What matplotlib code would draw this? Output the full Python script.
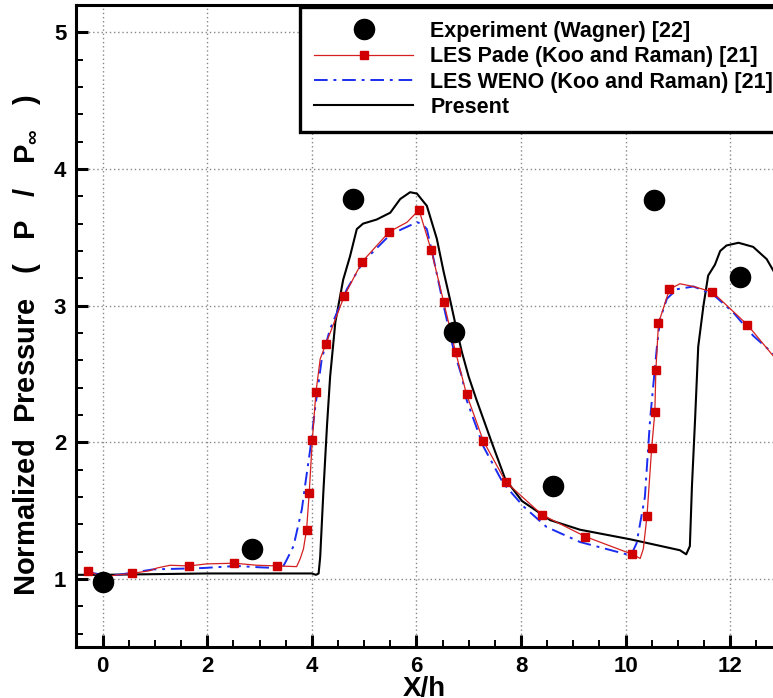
import matplotlib
matplotlib.use("Agg")
import matplotlib.pyplot as plt
from matplotlib.lines import Line2D
from matplotlib.ticker import MultipleLocator, AutoMinorLocator

plt.rcParams["font.family"] = ["Liberation Sans", "DejaVu Sans"]
plt.rcParams["font.weight"] = "bold"
plt.rcParams["mathtext.fontset"] = "custom"
plt.rcParams["mathtext.rm"] = "Liberation Sans:bold"
plt.rcParams["mathtext.it"] = "Liberation Sans:bold"
plt.rcParams["mathtext.bf"] = "Liberation Sans:bold"

# Wall pressure data, X/h vs P/P_inf
exp_x = [0.0, 2.85, 4.78, 6.71, 8.62, 10.55, 12.18]
exp_p = [0.98, 1.22, 3.78, 2.81, 1.68, 3.77, 3.21]

pade_x = [-0.29, -0.1, 0.1, 0.3, 0.56, 0.9, 1.04, 1.29, 1.65, 1.99, 2.52, 2.95,
          3.34, 3.71, 3.78, 3.84, 3.90, 3.95, 4.01, 4.08, 4.16, 4.27, 4.62,
          4.96, 5.48, 5.82, 6.05, 6.28, 6.52, 6.75, 6.96, 7.28, 7.71, 8.40,
          9.23, 10.13, 10.28, 10.34, 10.41, 10.50, 10.56, 10.58, 10.63, 10.84,
          11.04, 11.30, 11.66, 12.33, 12.85]
pade_p = [1.06, 1.03, 1.02, 1.03, 1.04, 1.06, 1.08, 1.10, 1.095, 1.11, 1.115,
          1.10, 1.095, 1.09, 1.15, 1.22, 1.36, 1.63, 2.02, 2.37, 2.61, 2.72,
          3.07, 3.32, 3.54, 3.61, 3.70, 3.41, 3.03, 2.66, 2.35, 2.01, 1.71,
          1.47, 1.31, 1.18, 1.15, 1.22, 1.46, 1.96, 2.22, 2.53, 2.87, 3.12,
          3.16, 3.14, 3.10, 2.86, 2.62]

pade_mark_x = [-0.29, 0.56, 1.65, 2.52, 3.34, 3.90, 3.95, 4.01, 4.08, 4.27,
               4.62, 4.96, 5.48, 6.05, 6.28, 6.52, 6.75, 6.96, 7.28, 7.71,
               8.40, 9.23, 10.13, 10.41, 10.50, 10.56, 10.58, 10.63, 10.84,
               11.66, 12.33]
pade_mark_p = [1.06, 1.04, 1.095, 1.115, 1.095, 1.36, 1.63, 2.02, 2.37, 2.72,
               3.07, 3.32, 3.54, 3.70, 3.41, 3.03, 2.66, 2.35, 2.01, 1.71,
               1.47, 1.31, 1.18, 1.46, 1.96, 2.22, 2.53, 2.87, 3.12,
               3.10, 2.86]

weno_x = [-0.3, 0.0, 0.3, 0.97, 1.5, 1.93, 2.57, 3.0, 3.33, 3.45, 3.52, 3.65,
          3.81, 3.87, 3.97, 4.06, 4.19, 4.35, 4.67, 4.98, 5.50, 6.01, 6.10,
          6.20, 6.33, 6.52, 6.71, 6.87, 6.96, 7.28, 7.66, 8.05, 8.49, 9.13,
          10.02, 10.10, 10.21, 10.37, 10.47, 10.60, 10.66, 10.79, 10.98,
          11.30, 11.68, 12.06, 12.44, 12.85]
weno_p = [1.05, 1.03, 1.03, 1.07, 1.075, 1.08, 1.095, 1.085, 1.08, 1.09, 1.14,
          1.24, 1.51, 1.68, 1.95, 2.24, 2.61, 2.83, 3.12, 3.32, 3.52, 3.61,
          3.60, 3.56, 3.34, 3.00, 2.68, 2.48, 2.31, 1.97, 1.70, 1.53, 1.38,
          1.27, 1.18, 1.17, 1.26, 1.60, 2.17, 2.70, 2.90, 3.05, 3.12, 3.14,
          3.08, 2.95, 2.78, 2.64]

present_x = [-0.55, 0.0, 1.0, 2.0, 3.0, 3.5, 4.0, 4.08, 4.13, 4.16, 4.22, 4.29,
             4.35, 4.45, 4.60, 4.73, 4.86, 4.92, 4.98, 5.24, 5.50, 5.69, 5.88,
             6.01, 6.20, 6.39, 6.52, 6.64, 6.76, 6.87, 7.00, 7.15, 7.44, 7.70,
             8.02, 8.56, 9.13, 10.09, 11.04, 11.16, 11.23, 11.27, 11.33, 11.39,
             11.49, 11.58, 11.71, 11.81, 11.93, 12.16, 12.44, 12.70, 12.85]
present_p = [1.03, 1.03, 1.035, 1.04, 1.04, 1.04, 1.04, 1.03, 1.04, 1.16, 1.63,
             2.12, 2.48, 2.88, 3.19, 3.36, 3.56, 3.58, 3.60, 3.63, 3.68, 3.78,
             3.83, 3.82, 3.73, 3.49, 3.25, 3.05, 2.84, 2.66, 2.48, 2.31, 2.00,
             1.73, 1.57, 1.43, 1.36, 1.29, 1.21, 1.18, 1.24, 1.68, 2.17, 2.70,
             3.00, 3.22, 3.30, 3.40, 3.44, 3.46, 3.43, 3.34, 3.24]

labels = ["Experiment (Wagner) [22]", "LES Pade (Koo and Raman) [21]",
          "LES WENO (Koo and Raman) [21]", "Present"]

red = "#d42020"
blue = "#1a2cf0"

fig = plt.figure(figsize=(7.73, 6.98), dpi=100)
ax = fig.add_axes([76 / 773, 51.3 / 698, 697 / 773, 641.7 / 698])

ax.plot(present_x, present_p, color="black", lw=1.5, zorder=3)
ax.plot(weno_x, weno_p, color=blue, lw=1.4, ls=(0, (7, 3, 1.5, 3)), zorder=4)
ax.plot(pade_x, pade_p, color=red, lw=0.9, zorder=5)
ax.plot(pade_mark_x, pade_mark_p, ls="none", marker="s", ms=5.5,
        color="#d00000", zorder=6)
ax.plot(exp_x, exp_p, ls="none", marker="o", ms=14.5, color="black", zorder=7)

ax.set_xlim(-0.51, 12.82)
ax.set_ylim(0.504, 5.20)
ax.xaxis.set_major_locator(MultipleLocator(2))
ax.xaxis.set_minor_locator(AutoMinorLocator(4))
ax.yaxis.set_major_locator(MultipleLocator(1))
ax.yaxis.set_minor_locator(AutoMinorLocator(5))
ax.grid(True, which="major", color="#888888", ls=(0, (1, 2)), lw=1.0)
ax.set_axisbelow(True)

for side in ("left", "bottom", "top"):
    ax.spines[side].set_linewidth(2.2)
ax.spines["right"].set_visible(False)
ax.tick_params(which="major", direction="in", length=8.5, width=2.2,
               labelsize=16, pad=7)
ax.tick_params(which="minor", direction="in", length=5, width=1.4)
for lab in ax.get_xticklabels() + ax.get_yticklabels():
    lab.set_fontweight("bold")

ax.set_xlabel("X/h", fontsize=20, fontweight="bold", labelpad=-1)
ax.set_ylabel(r"Normalized  Pressure   (   P   /   P$_{\infty}$   )",
              fontsize=21, fontweight="bold")
ax.yaxis.set_label_coords(-0.047, 0.47)

handles = [
    Line2D([], [], ls="none", marker="o", ms=14.5, color="black"),
    Line2D([], [], color=red, lw=0.9, marker="s", ms=5.5, mfc="#d00000",
           mec="#d00000"),
    Line2D([], [], color=blue, lw=1.4, ls=(0, (7, 3, 1.5, 3))),
    Line2D([], [], color="black", lw=1.5),
]
leg = fig.legend(handles, labels, loc="upper left",
                 bbox_to_anchor=(300 / 773, 1 - 7 / 698), borderaxespad=0,
                 prop={"weight": "bold", "size": 15.5},
                 handlelength=4.6, handletextpad=0.8, labelspacing=0.2,
                 borderpad=0.65, fancybox=False, framealpha=1, numpoints=1)
leg.get_frame().set_edgecolor("black")
leg.get_frame().set_linewidth(2.4)

fig.savefig("out.png", dpi=100)
